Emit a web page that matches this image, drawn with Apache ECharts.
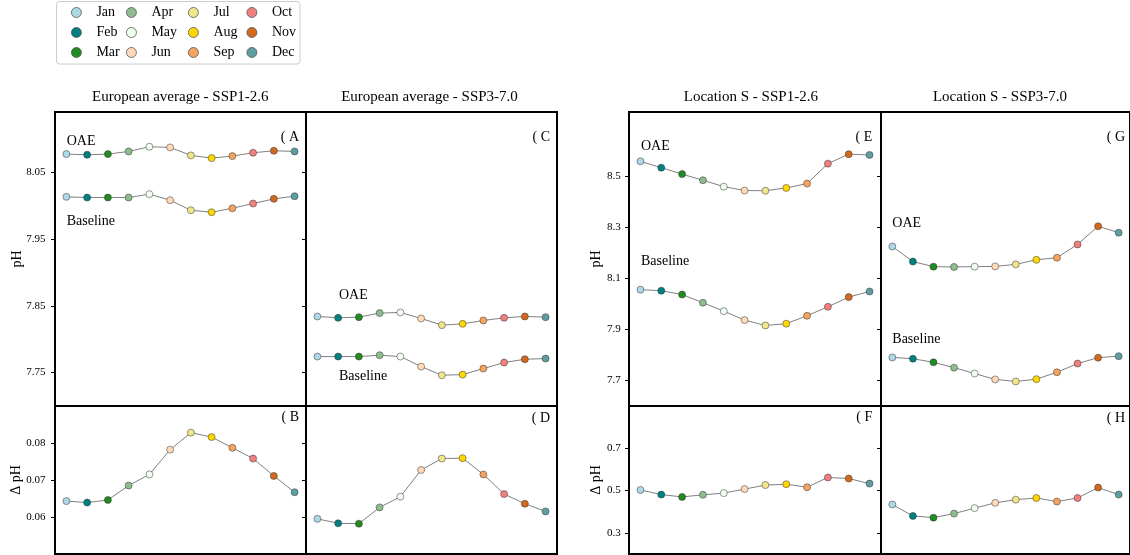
<!DOCTYPE html>
<html>
<head>
<meta charset="utf-8">
<script src="https://cdn.jsdelivr.net/npm/echarts@6/dist/echarts.min.js"></script>
<style>
html,body{margin:0;padding:0;background:#fff;}
#chart{width:1130px;height:555px;}
</style>
</head>
<body>
<div id="chart"></div>
<script>
// ---------------- DATA ----------------
const months = ['Jan','Feb','Mar','Apr','May','Jun','Jul','Aug','Sep','Oct','Nov','Dec'];
const monthColors = ['#add8e6','#008080','#228b22','#8fbc8f','#f0fff0','#ffdab9',
                     '#f0e68c','#ffd700','#f4a460','#f08080','#d2691e','#5f9ea0'];

const panelTitles = ['European average - SSP1-2.6','European average - SSP3-7.0',
                     'Location S - SSP1-2.6','Location S - SSP3-7.0'];
const panelLetters = ['( A','( B','( C','( D','( E','( F','( G','( H'];

// European average - SSP1-2.6
const euSsp126Oae   = [8.077,8.076,8.077,8.081,8.088,8.087,8.075,8.071,8.074,8.079,8.082,8.081];
const euSsp126Base  = [8.013,8.012,8.012,8.012,8.017,8.008,7.993,7.990,7.996,8.003,8.010,8.014];
const euSsp126Delta = [0.0643,0.0639,0.0646,0.0685,0.0715,0.0782,0.0828,0.0816,0.0787,0.0758,0.0711,0.0667];

// European average - SSP3-7.0
const euSsp370Oae   = [7.834,7.832,7.833,7.839,7.840,7.831,7.821,7.823,7.828,7.832,7.834,7.833];
const euSsp370Base  = [7.774,7.774,7.774,7.776,7.774,7.759,7.746,7.747,7.756,7.765,7.770,7.771];
const euSsp370Delta = [0.0595,0.0583,0.0582,0.0626,0.0655,0.0727,0.0758,0.0759,0.0715,0.0662,0.0636,0.0615];

// Location S - SSP1-2.6
const locSsp126Oae   = [8.557,8.532,8.507,8.483,8.458,8.443,8.442,8.453,8.470,8.548,8.585,8.582];
const locSsp126Base  = [8.055,8.051,8.036,8.004,7.971,7.936,7.915,7.922,7.953,7.988,8.026,8.048];
const locSsp126Delta = [0.503,0.481,0.470,0.480,0.488,0.507,0.526,0.530,0.516,0.562,0.557,0.533];

// Location S - SSP3-7.0
const locSsp370Oae   = [8.224,8.165,8.145,8.144,8.145,8.146,8.154,8.172,8.180,8.232,8.303,8.278];
const locSsp370Base  = [7.790,7.785,7.771,7.750,7.727,7.704,7.696,7.705,7.732,7.766,7.789,7.795];
const locSsp370Delta = [0.434,0.380,0.372,0.391,0.417,0.442,0.457,0.465,0.448,0.465,0.514,0.481];

// tick labels
const phTicksEU   = ['7.75','7.85','7.95','8.05'];
const dphTicksEU  = ['0.06','0.07','0.08'];
const phTicksLoc  = ['7.7','7.9','8.1','8.3','8.5'];
const dphTicksLoc = ['0.3','0.5','0.7'];

// ---------------- LAYOUT / STYLE ----------------
const FONT = 'Liberation Serif, Times New Roman, serif';
const colLefts  = [55, 306, 629, 881];
const colWidths = [251, 251, 252, 252];
const topRow = {top:112, height:294};
const botRow = {top:406, height:148};

const grids = [];
const xAxes = [];
const yAxes = [];
const series = [];

function tickFormatter(ticks){
  return function(v){
    const t = ticks.find(s => Math.abs(parseFloat(s) - v) < 1e-9);
    return t !== undefined ? t : '';
  };
}

function addPanel(col, row, range, ticks, showLabels, axisName, nameGap, labelMargin, lines){
  const idx = grids.length;
  const r = row === 0 ? topRow : botRow;
  grids.push({left:colLefts[col], top:r.top, width:colWidths[col], height:r.height,
              show:true, borderColor:'#000', borderWidth:2, backgroundColor:'transparent',
              containLabel:false});
  xAxes.push({type:'value', gridIndex:idx, min:-0.55, max:11.55, show:false,
              axisLine:{onZero:false}});
  const tv = ticks.map(Number);
  yAxes.push({
    type:'value', gridIndex:idx, min:range[0], max:range[1], position:'left',
    axisLine:{show:false, onZero:false},
    splitLine:{show:false},
    axisTick:{show:true, inside:false, length:4, lineStyle:{color:'#000', width:1}, customValues:tv},
    axisLabel:{show:showLabels, customValues:tv, formatter:tickFormatter(ticks), margin:labelMargin,
               fontFamily:FONT, fontSize:11, color:'#000'},
    name: axisName || '',
    nameLocation:'middle', nameRotate:90, nameGap:nameGap || 30, nameMoveOverlap:false,
    nameTextStyle:{fontFamily:FONT, fontSize:14, color:'#000'}
  });
  lines.forEach(vals => {
    series.push({
      type:'line', xAxisIndex:idx, yAxisIndex:idx,
      data: vals.map((v,i) => ({value:[i, v], itemStyle:{color:monthColors[i]}})),
      symbol:'circle', symbolSize:7,
      lineStyle:{color:'#606060', width:0.8},
      itemStyle:{borderColor:'#333', borderWidth:0.5},
      emphasis:{disabled:true}, silent:true, animation:false, z:3
    });
  });
}

const rangeEUpH = [7.70, 8.14], rangeEUd = [0.05, 0.09];
const rangeLocpH = [7.60, 8.75], rangeLocd = [0.20, 0.90];

addPanel(0,0,rangeEUpH, phTicksEU, true,  'pH', 31, 9.5, [euSsp126Oae, euSsp126Base]);
addPanel(1,0,rangeEUpH, phTicksEU, false, '', 0, 8,    [euSsp370Oae, euSsp370Base]);
addPanel(2,0,rangeLocpH, phTicksLoc, true, 'pH', 26, 8.3, [locSsp126Oae, locSsp126Base]);
addPanel(3,0,rangeLocpH, phTicksLoc, false,'', 0, 8,   [locSsp370Oae, locSsp370Base]);
addPanel(0,1,rangeEUd, dphTicksEU, true,  'Δ pH', 32, 9.5, [euSsp126Delta]);
addPanel(1,1,rangeEUd, dphTicksEU, false, '', 0, 8,    [euSsp370Delta]);
addPanel(2,1,rangeLocd, dphTicksLoc, true, 'Δ pH', 26, 8.3, [locSsp126Delta]);
addPanel(3,1,rangeLocd, dphTicksLoc, false,'', 0, 8,   [locSsp370Delta]);

// legend-only series (one per month)
months.forEach((m,i) => {
  series.push({type:'line', name:m, xAxisIndex:0, yAxisIndex:0, data:[],
               symbol:'circle', itemStyle:{color:monthColors[i], borderColor:'#555', borderWidth:0.8},
               lineStyle:{color:monthColors[i]}});
});

const legendCols = [[0,1,2],[3,4,5],[6,7,8],[9,10,11]];
const legendLefts = [71, 126, 188, 246.5];
const legends = legendCols.map((c,k) => ({
  data: c.map(i => months[i]),
  orient:'vertical', left:legendLefts[k], top:4.5, padding:0,
  itemWidth:30, itemHeight:10, itemGap:4, icon:'circle',
  selectedMode:false,
  itemStyle:{borderColor:'#555', borderWidth:0.8},
  textStyle:{fontFamily:FONT, fontSize:14, color:'#000', lineHeight:16}
}));

function txt(x, y, s, size, align){
  return {type:'text', x:x, y:y, silent:true, z:10,
          style:{text:s, font:size + 'px ' + FONT, fill:'#000',
                 textAlign:align, textVerticalAlign:'middle',
                 align:align, verticalAlign:'middle'}};
}

const graphics = [
  {type:'rect', shape:{x:56.5, y:1.5, width:243.5, height:62.5, r:3},
   style:{fill:'#fff', stroke:'#cccccc', lineWidth:1}, z:-1, silent:true},
  txt(180.3, 96.7, panelTitles[0], 15, 'center'),
  txt(429.5, 96.7, panelTitles[1], 15, 'center'),
  txt(750.8, 96.7, panelTitles[2], 15, 'center'),
  txt(1000,  96.7, panelTitles[3], 15, 'center'),
  // panel letters
  txt(299, 137.7, panelLetters[0], 14, 'right'),
  txt(299, 417.5, panelLetters[1], 14, 'right'),
  txt(550, 137.5, panelLetters[2], 14, 'right'),
  txt(550, 418.3, panelLetters[3], 14, 'right'),
  txt(872.3, 137.5, panelLetters[4], 14, 'right'),
  txt(872.3, 417.5, panelLetters[5], 14, 'right'),
  txt(1125, 137.3, panelLetters[6], 14, 'right'),
  txt(1125, 418, panelLetters[7], 14, 'right'),
  // OAE / Baseline labels
  txt(66.7, 141.7, 'OAE', 14, 'left'),
  txt(66.7, 221.7, 'Baseline', 14, 'left'),
  txt(339, 295, 'OAE', 14, 'left'),
  txt(339, 376, 'Baseline', 14, 'left'),
  txt(641, 146.7, 'OAE', 14, 'left'),
  txt(641, 261.7, 'Baseline', 14, 'left'),
  txt(892.3, 223.3, 'OAE', 14, 'left'),
  txt(892.3, 339, 'Baseline', 14, 'left')
];

const chart = echarts.init(document.getElementById('chart'), null, {renderer:'canvas'});
chart.setOption({
  animation:false,
  backgroundColor:'#fff',
  textStyle:{fontFamily:FONT},
  grid:grids, xAxis:xAxes, yAxis:yAxes, series:series,
  legend:legends,
  graphic:graphics
});
</script>
</body>
</html>
